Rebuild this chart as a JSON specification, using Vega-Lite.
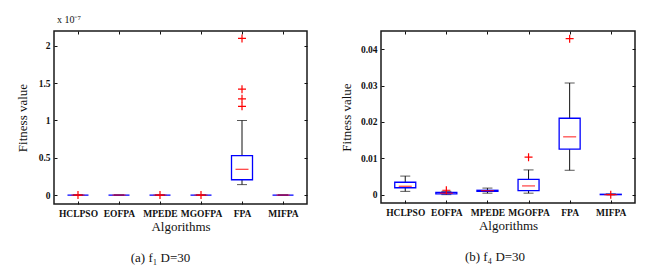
{
  "$schema": "https://vega.github.io/schema/vega-lite/v6.json",
  "background": "white",
  "padding": {"left": 15, "top": 14, "right": 5, "bottom": 2},
  "config": {
    "font": "Liberation Serif",
    "view": {"stroke": "#1a1a1a", "strokeWidth": 1.5},
    "axis": {"domain": false, "grid": false, "labelFont": "Liberation Serif", "labelFontSize": 9.5, "labelFontWeight": "bold", "labelColor": "#111", "tickColor": "#111", "tickSize": -3, "labelPadding": 7, "titleFont": "Liberation Serif", "titleFontSize": 13, "titleFontWeight": "normal", "titleColor": "#111"},
    "concat": {"spacing": 30},
    "title": {"font": "Liberation Serif", "fontSize": 13, "fontWeight": "normal", "color": "#111"}
  },
  "datasets": {
    "f1": [
      {"algo": "HCLPSO", "lower": 0, "q1": 0, "median": 0, "q3": 0, "upper": 0},
      {"algo": "EOFPA", "lower": 0, "q1": 0, "median": 0, "q3": 0, "upper": 0},
      {"algo": "MPEDE", "lower": 0, "q1": 0, "median": 0, "q3": 0, "upper": 0},
      {"algo": "MGOFPA", "lower": 0, "q1": 0, "median": 0, "q3": 0, "upper": 0},
      {"algo": "FPA", "lower": 1.4e-8, "q1": 2.05e-8, "median": 3.45e-8, "q3": 5.3e-8, "upper": 1.0e-7},
      {"algo": "MIFPA", "lower": 0, "q1": 0, "median": 0, "q3": 0, "upper": 0}
    ],
    "f1_out": [
      {"algo": "HCLPSO", "value": 0},
      {"algo": "MPEDE", "value": 0},
      {"algo": "MGOFPA", "value": 0},
      {"algo": "FPA", "value": 2.1e-7},
      {"algo": "FPA", "value": 1.42e-7},
      {"algo": "FPA", "value": 1.29e-7},
      {"algo": "FPA", "value": 1.19e-7}
    ],
    "f4": [
      {"algo": "HCLPSO", "lower": 0.0009, "q1": 0.0019, "median": 0.0023, "q3": 0.0034, "upper": 0.0051},
      {"algo": "EOFPA", "lower": 0.0, "q1": 0.0002, "median": 0.0004, "q3": 0.0006, "upper": 0.0009},
      {"algo": "MPEDE", "lower": 0.0004, "q1": 0.0009, "median": 0.0011, "q3": 0.0012, "upper": 0.0018},
      {"algo": "MGOFPA", "lower": 0.0004, "q1": 0.0011, "median": 0.0024, "q3": 0.0042, "upper": 0.0068},
      {"algo": "FPA", "lower": 0.0067, "q1": 0.0125, "median": 0.0159, "q3": 0.021, "upper": 0.0307},
      {"algo": "MIFPA", "lower": 0, "q1": 0, "median": 0, "q3": 0.0001, "upper": 0.0002}
    ],
    "f4_out": [
      {"algo": "EOFPA", "value": 0.0012},
      {"algo": "MGOFPA", "value": 0.0103},
      {"algo": "FPA", "value": 0.0429},
      {"algo": "MIFPA", "value": 0}
    ]
  },
  "hconcat": [
    {
      "width": 253,
      "height": 173,
      "title": {"text": "(a) f₁ D=30", "orient": "bottom", "offset": 18, "dx": -20},
      "resolve": {"axis": {"x": "independent", "y": "independent"}},
      "layer": [
        {"data": {"name": "f1"}, "mark": {"type": "rule", "color": "#111", "strokeWidth": 1},
         "encoding": {
           "x": {"field": "algo", "type": "nominal", "scale": {"type": "point", "padding": 0.585, "domain": ["HCLPSO", "EOFPA", "MPEDE", "MGOFPA", "FPA", "MIFPA"]}, "axis": {"orient": "bottom", "title": "Algorithms", "labelAngle": 0, "titlePadding": 3}},
           "y": {"field": "lower", "type": "quantitative", "scale": {"domain": [-1.2e-8, 2.2e-7], "nice": false, "zero": false},
                 "axis": {"orient": "left", "title": "Fitness value", "titlePadding": 9, "values": [0, 5e-8, 1e-7, 1.5e-7, 2e-7], "labelExpr": "format(datum.value*1e7, '.1~f')"}},
           "y2": {"field": "upper"}}},
        {"data": {"name": "f1"}, "mark": {"type": "tick", "color": "#111", "size": 10, "thickness": 1},
         "encoding": {
           "x": {"field": "algo", "type": "nominal", "axis": {"orient": "top", "labels": false, "title": null}},
           "y": {"field": "lower", "type": "quantitative", "axis": {"orient": "right", "labels": false, "title": null, "values": [0, 5e-8, 1e-7, 1.5e-7, 2e-7]}}}},
        {"data": {"name": "f1"}, "mark": {"type": "tick", "color": "#111", "size": 10, "thickness": 1},
         "encoding": {"x": {"field": "algo", "type": "nominal", "axis": null}, "y": {"field": "upper", "type": "quantitative", "axis": null}}},
        {"data": {"name": "f1"}, "mark": {"type": "bar", "size": 21, "fill": "white", "stroke": "#0000ff", "strokeWidth": 1.3},
         "encoding": {"x": {"field": "algo", "type": "nominal", "axis": null}, "y": {"field": "q1", "type": "quantitative", "axis": null}, "y2": {"field": "q3"}}},
        {"data": {"name": "f1"}, "mark": {"type": "tick", "color": "#ff0000", "size": 13, "thickness": 1.3},
         "encoding": {"x": {"field": "algo", "type": "nominal", "axis": null}, "y": {"field": "median", "type": "quantitative", "axis": null}}},
        {"data": {"name": "f1_out"}, "mark": {"type": "point", "shape": "M-1,0L1,0M0,-1L0,1", "filled": false, "stroke": "#ff0000", "strokeWidth": 1.2, "size": 64, "opacity": 1},
         "encoding": {"x": {"field": "algo", "type": "nominal", "axis": null}, "y": {"field": "value", "type": "quantitative", "axis": null}}},
        {"data": {"values": [{"label": "x 10⁻⁷"}]}, "mark": {"type": "text", "align": "left", "baseline": "alphabetic", "dx": -21, "dy": -8, "fontSize": 10, "color": "#111"},
         "encoding": {"x": {"datum": "HCLPSO", "axis": null}, "y": {"datum": 2.2e-7, "axis": null}, "text": {"field": "label"}}}
      ]
    },
    {
      "width": 254,
      "height": 172,
      "title": {"text": "(b) f₄ D=30", "orient": "bottom", "offset": 18, "dx": -13},
      "resolve": {"axis": {"x": "independent", "y": "independent"}},
      "layer": [
        {"data": {"name": "f4"}, "mark": {"type": "rule", "color": "#111", "strokeWidth": 1},
         "encoding": {
           "x": {"field": "algo", "type": "nominal", "scale": {"type": "point", "padding": 0.59, "domain": ["HCLPSO", "EOFPA", "MPEDE", "MGOFPA", "FPA", "MIFPA"]}, "axis": {"orient": "bottom", "title": "Algorithms", "labelAngle": 0, "titlePadding": 3}},
           "y": {"field": "lower", "type": "quantitative", "scale": {"domain": [-0.0023, 0.045], "nice": false, "zero": false},
                 "axis": {"orient": "left", "title": "Fitness value", "titlePadding": 7, "values": [0, 0.01, 0.02, 0.03, 0.04], "format": ".2~f"}},
           "y2": {"field": "upper"}}},
        {"data": {"name": "f4"}, "mark": {"type": "tick", "color": "#111", "size": 10, "thickness": 1},
         "encoding": {
           "x": {"field": "algo", "type": "nominal", "axis": {"orient": "top", "labels": false, "title": null}},
           "y": {"field": "lower", "type": "quantitative", "axis": {"orient": "right", "labels": false, "title": null, "values": [0, 0.01, 0.02, 0.03, 0.04]}}}},
        {"data": {"name": "f4"}, "mark": {"type": "tick", "color": "#111", "size": 10, "thickness": 1},
         "encoding": {"x": {"field": "algo", "type": "nominal", "axis": null}, "y": {"field": "upper", "type": "quantitative", "axis": null}}},
        {"data": {"name": "f4"}, "mark": {"type": "bar", "size": 21, "fill": "white", "stroke": "#0000ff", "strokeWidth": 1.3},
         "encoding": {"x": {"field": "algo", "type": "nominal", "axis": null}, "y": {"field": "q1", "type": "quantitative", "axis": null}, "y2": {"field": "q3"}}},
        {"data": {"name": "f4"}, "mark": {"type": "tick", "color": "#ff0000", "size": 13, "thickness": 1.3},
         "encoding": {"x": {"field": "algo", "type": "nominal", "axis": null}, "y": {"field": "median", "type": "quantitative", "axis": null}}},
        {"data": {"name": "f4_out"}, "mark": {"type": "point", "shape": "M-1,0L1,0M0,-1L0,1", "filled": false, "stroke": "#ff0000", "strokeWidth": 1.2, "size": 64, "opacity": 1},
         "encoding": {"x": {"field": "algo", "type": "nominal", "axis": null}, "y": {"field": "value", "type": "quantitative", "axis": null}}}
      ]
    }
  ]
}
